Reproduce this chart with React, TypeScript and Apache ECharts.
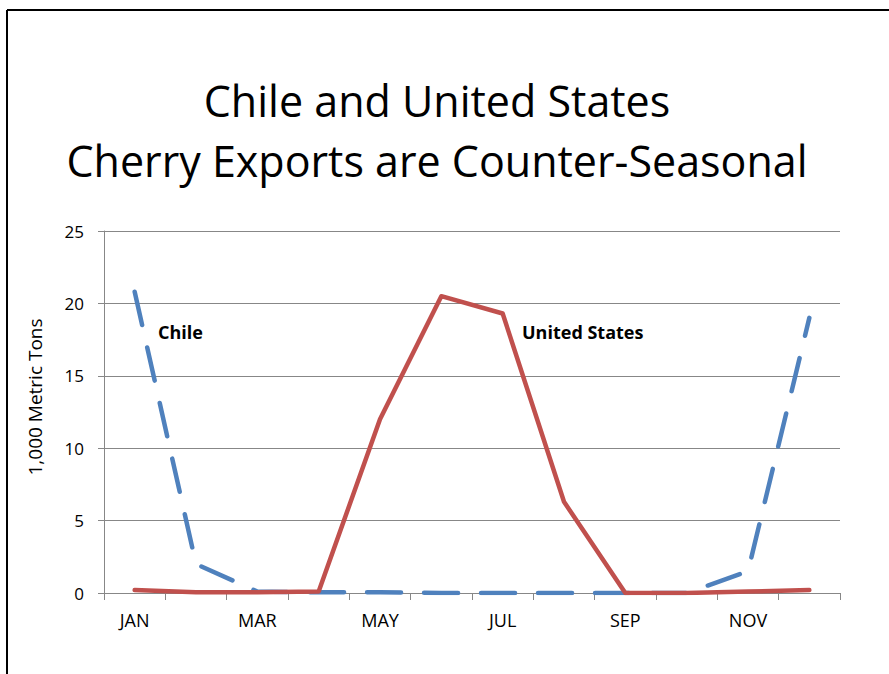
import React, { useEffect, useRef } from "react";
import * as echarts from "echarts";

const months = ["JAN", "FEB", "MAR", "APR", "MAY", "JUN", "JUL", "AUG", "SEP", "OCT", "NOV", "DEC"];
const chile = [20.8, 2.0, 0.1, 0.05, 0.05, 0.0, 0.0, 0.0, 0.0, 0.0, 1.5, 19.0];
const unitedStates = [0.2, 0.05, 0.05, 0.1, 12.0, 20.5, 19.3, 6.3, 0.0, 0.0, 0.1, 0.2];
const titleLines = ["Chile and United States", "Cherry Exports are Counter-Seasonal"];
const yName = "1,000 Metric Tons";

const FONT = "'Open Sans', 'Noto Sans', sans-serif";
const GRAY = "#878787";

export default function App() {
  const ref = useRef<HTMLDivElement>(null);
  useEffect(() => {
    const chart = echarts.init(ref.current!, null, { renderer: "svg" });
    chart.setOption({
      animation: false,
      backgroundColor: "#ffffff",
      textStyle: { fontFamily: FONT },
      grid: { left: 104, right: 49, top: 231, bottom: 81, containLabel: false },
      xAxis: {
        type: "category",
        data: months,
        boundaryGap: true,
        axisLine: { show: true, lineStyle: { color: GRAY, width: 1 } },
        axisTick: { show: true, interval: 0, length: 7, lineStyle: { color: GRAY } },
        axisLabel: { interval: 1, color: "#000", fontSize: 18, fontFamily: FONT, margin: 18 },
        splitLine: { show: false },
      },
      yAxis: {
        type: "value",
        min: 0,
        max: 25,
        interval: 5,
        axisLine: { show: true, lineStyle: { color: GRAY, width: 1 } },
        axisTick: { show: true, inside: false, length: 6, lineStyle: { color: GRAY } },
        axisLabel: { color: "#000", fontSize: 17, fontFamily: FONT, margin: 20 },
        splitLine: { show: true, lineStyle: { color: GRAY, width: 1 } },
      },
      series: [
        {
          name: "Chile",
          type: "line",
          data: chile,
          symbol: "none",
          lineStyle: { color: "#4F81BD", width: 4.5, type: [34, 23], cap: "round", join: "round" },
          z: 3,
        },
        {
          name: "United States",
          type: "line",
          data: unitedStates,
          symbol: "none",
          lineStyle: { color: "#C0504D", width: 4.5, type: "solid", cap: "round", join: "round" },
          z: 4,
        },
      ],
      graphic: [
        { type: "line", shape: { x1: 7, y1: 10, x2: 889, y2: 10 }, style: { stroke: "#000", lineWidth: 2 } },
        { type: "line", shape: { x1: 7, y1: 10, x2: 7, y2: 674 }, style: { stroke: "#000", lineWidth: 2 } },
        {
          type: "text",
          x: 437,
          y: 100,
          style: { text: titleLines[0], fill: "#000", font: `43px ${FONT}`, align: "center", verticalAlign: "middle" },
        },
        {
          type: "text",
          x: 437,
          y: 160,
          style: { text: titleLines[1], fill: "#000", font: `43px ${FONT}`, align: "center", verticalAlign: "middle" },
        },
        {
          type: "text",
          x: 35,
          y: 397,
          rotation: Math.PI / 2,
          style: { text: yName, fill: "#000", font: `19px ${FONT}`, align: "center", verticalAlign: "middle" },
        },
        {
          type: "text",
          x: 158,
          y: 332,
          style: { text: "Chile", fill: "#000", font: `bold 18px ${FONT}`, align: "left", verticalAlign: "middle" },
        },
        {
          type: "text",
          x: 522,
          y: 332,
          style: { text: "United States", fill: "#000", font: `bold 18px ${FONT}`, align: "left", verticalAlign: "middle" },
        },
      ],
    });
    return () => chart.dispose();
  }, []);
  return (
    <div
      ref={ref}
      style={{ position: "fixed", left: 0, top: 0, width: 889, height: 674, background: "#fff" }}
    />
  );
}
